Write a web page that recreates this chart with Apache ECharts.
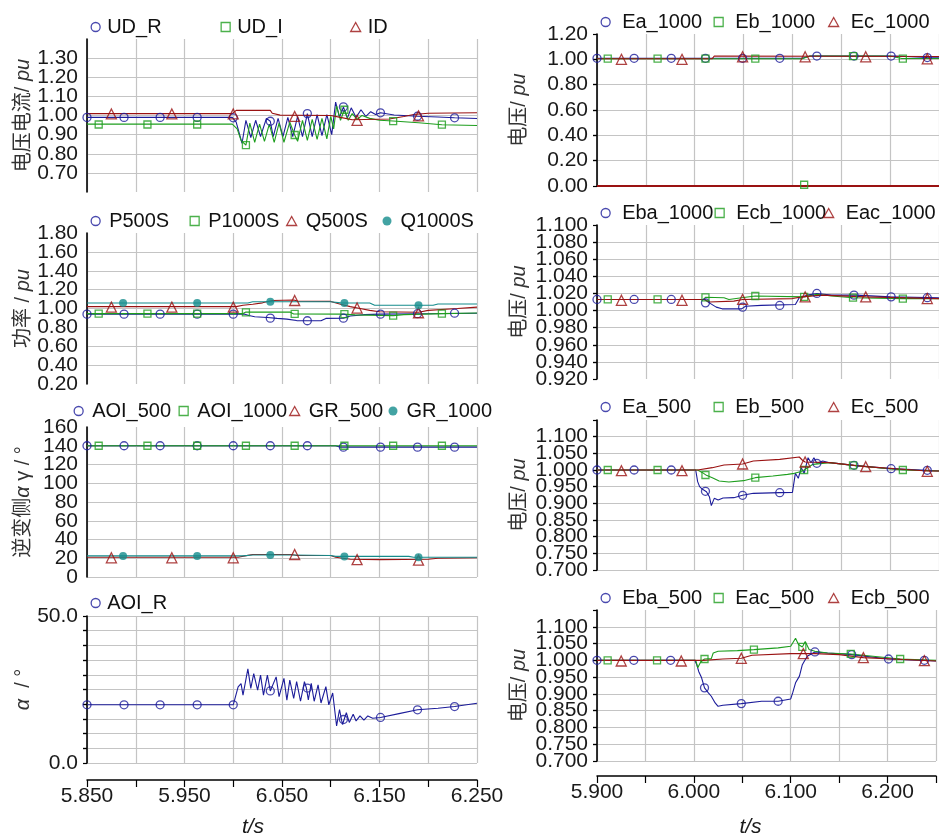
<!DOCTYPE html>
<html>
<head>
<meta charset="utf-8">
<script src="https://cdn.jsdelivr.net/npm/echarts@6/dist/echarts.min.js"></script>
<style>
  html, body { margin: 0; padding: 0; background: #fff; }
  #chart { width: 939px; height: 839px; }
</style>
</head>
<body>
<div id="chart"></div>
<script>
// ---------- time axes (s) ----------
const tLeft = { min: 5.85, max: 6.25, step: 0.05 };
const tRight = { min: 5.90, max: 6.25, step: 0.05 };

// ---------- 直流电压/电流 (pu) ----------
const udR = [[5.850,0.990],[5.999,0.990],[6.003,0.965],[6.009,0.855],[6.013,0.975],[6.018,0.885],[6.023,0.975],[6.028,0.890],[6.034,0.985],[6.038,0.970],[6.041,0.890],[6.046,0.985],[6.051,0.890],[6.056,0.990],[6.061,0.890],[6.066,0.995],[6.071,0.890],[6.076,1.010],[6.081,0.890],[6.086,1.005],[6.091,0.895],[6.096,1.005],[6.101,0.900],[6.105,1.070],[6.109,0.990],[6.113,1.045],[6.117,0.985],[6.121,1.040],[6.126,0.990],[6.131,1.030],[6.136,0.995],[6.141,1.020],[6.146,1.005],[6.151,1.014],[6.165,1.003],[6.189,0.996],[6.210,0.992],[6.227,0.988],[6.250,0.984]];
const udRMk = [[5.850,0.990],[5.888,0.990],[5.925,0.990],[5.963,0.990],[6.000,0.988],[6.038,0.970],[6.076,1.010],[6.113,1.045],[6.151,1.014],[6.189,0.996],[6.227,0.988]];
const udI = [[5.850,0.955],[5.999,0.955],[6.004,0.930],[6.008,0.870],[6.013,0.845],[6.017,0.960],[6.022,0.860],[6.027,0.955],[6.032,0.865],[6.037,0.955],[6.042,0.860],[6.047,0.960],[6.052,0.860],[6.058,0.965],[6.063,0.898],[6.066,0.865],[6.071,0.975],[6.076,0.870],[6.081,0.980],[6.086,0.875],[6.091,0.985],[6.096,0.878],[6.100,0.995],[6.103,0.930],[6.106,1.050],[6.110,0.975],[6.114,1.030],[6.118,0.975],[6.122,1.010],[6.127,0.980],[6.132,1.000],[6.140,0.985],[6.150,0.975],[6.164,0.971],[6.190,0.962],[6.214,0.952],[6.250,0.948]];
const udIMk = [[5.862,0.953],[5.912,0.953],[5.963,0.953],[6.013,0.845],[6.063,0.898],[6.114,1.030],[6.164,0.971],[6.214,0.952]];
const idc = [[5.850,1.010],[5.999,1.010],[6.003,1.027],[6.038,1.027],[6.040,1.012],[6.048,1.002],[6.100,1.000],[6.110,0.990],[6.122,0.978],[6.160,0.982],[6.175,0.995],[6.185,1.005],[6.200,1.012],[6.250,1.014]];
const idcMk = [[5.875,1.008],[5.937,1.008],[6.000,1.008],[6.063,0.995],[6.127,0.975],[6.190,0.998]];

// ---------- 功率 (pu) ----------
const p500 = [[5.850,0.940],[6.012,0.940],[6.016,0.925],[6.022,0.912],[6.035,0.905],[6.045,0.895],[6.055,0.887],[6.065,0.872],[6.090,0.870],[6.095,0.895],[6.113,0.898],[6.120,0.920],[6.135,0.935],[6.151,0.940],[6.200,0.945],[6.250,0.950]];
const p500Mk = [[5.850,0.940],[5.888,0.940],[5.925,0.940],[5.963,0.940],[6.000,0.940],[6.038,0.898],[6.076,0.870],[6.113,0.898],[6.151,0.940],[6.189,0.945],[6.227,0.950]];
const p1000 = [[5.850,0.946],[6.010,0.946],[6.013,0.962],[6.058,0.962],[6.062,0.942],[6.113,0.940],[6.125,0.932],[6.164,0.925],[6.175,0.935],[6.214,0.946],[6.250,0.952]];
const p1000Mk = [[5.862,0.946],[5.912,0.946],[5.963,0.946],[6.013,0.960],[6.063,0.942],[6.114,0.940],[6.164,0.925],[6.214,0.946]];
const q500 = [[5.850,1.020],[6.003,1.020],[6.010,1.035],[6.020,1.045],[6.030,1.060],[6.040,1.085],[6.062,1.090],[6.066,1.078],[6.100,1.075],[6.110,1.045],[6.120,1.020],[6.130,1.000],[6.140,0.980],[6.150,0.965],[6.190,0.960],[6.200,0.980],[6.230,1.000],[6.250,1.015]];
const q500Mk = [[5.875,1.015],[5.937,1.015],[6.000,1.015],[6.063,1.085],[6.127,1.005],[6.190,0.955]];
const q1000 = [[5.850,1.058],[6.015,1.058],[6.020,1.072],[6.100,1.072],[6.110,1.060],[6.140,1.058],[6.145,1.035],[6.205,1.035],[6.210,1.048],[6.250,1.048]];
const q1000Mk = [[5.887,1.058],[5.963,1.058],[6.038,1.072],[6.114,1.058],[6.190,1.035]];

// ---------- 逆变侧 α、γ (°) ----------
const aoi500 = [[5.850,140],[6.105,140],[6.110,138.5],[6.250,138.5]];
const aoi500Mk = [[5.850,140],[5.888,140],[5.925,140],[5.963,140],[6.000,140],[6.038,140],[6.076,140],[6.113,138.5],[6.151,138.5],[6.189,138.5],[6.227,138.5]];
const aoi1000 = [[5.850,140],[6.250,140]];
const aoi1000Mk = [[5.862,140],[5.912,140],[5.963,140],[6.013,140],[6.063,140],[6.114,140],[6.164,140],[6.214,140]];
const gr500 = [[5.850,21],[6.005,21],[6.012,22.5],[6.020,24],[6.060,24],[6.065,23],[6.100,23],[6.105,21],[6.120,19],[6.150,18.5],[6.200,19],[6.210,20],[6.250,20.5]];
const gr500Mk = [[5.875,20.5],[5.937,20.5],[6.000,20.5],[6.063,24],[6.127,18.5],[6.190,18]];
const gr1000 = [[5.850,22.5],[6.010,22.5],[6.020,23.5],[6.060,23.5],[6.100,23],[6.105,22],[6.180,22],[6.185,21],[6.250,21]];
const gr1000Mk = [[5.887,22.5],[5.963,22.5],[6.038,23.5],[6.114,22],[6.190,21]];

// ---------- 整流侧 α (°) ----------
const aoiR = [[5.850,19.8],[6.000,19.8],[6.005,25.9],[6.008,27.0],[6.010,23.1],[6.015,32.0],[6.018,25.4],[6.021,30.4],[6.025,24.8],[6.028,29.9],[6.031,23.1],[6.035,29.9],[6.038,24.5],[6.044,29.3],[6.047,22.6],[6.052,28.8],[6.055,21.4],[6.058,28.2],[6.062,22.0],[6.065,27.7],[6.069,21.0],[6.073,27.7],[6.075,25.5],[6.077,21.5],[6.080,27.1],[6.083,21.0],[6.087,26.6],[6.090,20.4],[6.095,26.0],[6.098,19.8],[6.102,23.8],[6.106,12.6],[6.109,18.2],[6.112,13.1],[6.116,17.1],[6.119,13.8],[6.123,16.6],[6.126,14.3],[6.130,16.0],[6.134,14.6],[6.138,16.0],[6.143,15.2],[6.151,15.5],[6.170,16.8],[6.189,18.1],[6.210,18.6],[6.227,19.2],[6.250,20.3]];
const aoiRMk = [[5.850,19.8],[5.888,19.8],[5.925,19.8],[5.963,19.8],[6.000,19.8],[6.038,24.5],[6.076,25.5],[6.113,14.8],[6.151,15.5],[6.189,18.1],[6.227,19.2]];

// ---------- 1000kV 相电压 (pu) ----------
const ea1000 = [[5.900,1.008],[6.110,1.008],[6.118,1.026],[6.205,1.026],[6.238,1.014],[6.250,1.012]];
const ea1000Mk = [[5.900,1.008],[5.938,1.008],[5.976,1.008],[6.011,1.008],[6.049,1.008],[6.087,1.008],[6.125,1.026],[6.163,1.026],[6.201,1.026],[6.238,1.014]];
const eb1000 = [[5.900,1.005],[6.110,1.005],[6.118,1.026],[6.200,1.026],[6.212,1.006],[6.250,1.006]];
const eb1000Mk = [[5.911,1.005],[5.962,1.005],[6.011,1.005],[6.062,1.005],[6.112,0.010],[6.162,1.026],[6.213,1.005]];
const ec1000 = [[5.900,1.005],[6.018,1.005],[6.020,1.026],[6.250,1.022]];
const ec1000Mk = [[5.925,1.000],[5.987,1.000],[6.049,1.020],[6.113,1.020],[6.175,1.020],[6.238,1.004]];
const ec1000Zero = [[5.900,0.000],[6.250,0.000]];

// ---------- 1000kV 线电压 (pu) ----------
const eba1000 = [[5.900,1.013],[6.010,1.013],[6.015,1.009],[6.022,1.004],[6.028,1.002],[6.048,1.002],[6.052,1.005],[6.068,1.006],[6.103,1.007],[6.107,1.015],[6.115,1.018],[6.125,1.020],[6.140,1.018],[6.165,1.018],[6.200,1.016],[6.250,1.015]];
const eba1000Mk = [[5.900,1.013],[5.938,1.013],[5.976,1.013],[6.011,1.009],[6.049,1.004],[6.087,1.006],[6.125,1.020],[6.163,1.018],[6.201,1.016],[6.238,1.015]];
const ecb1000 = [[5.900,1.013],[6.009,1.013],[6.011,1.0155],[6.030,1.015],[6.035,1.013],[6.048,1.015],[6.062,1.017],[6.112,1.016],[6.125,1.019],[6.140,1.017],[6.162,1.015],[6.213,1.014],[6.250,1.014]];
const ecb1000Mk = [[5.911,1.013],[5.962,1.013],[6.011,1.0155],[6.062,1.017],[6.112,1.016],[6.162,1.015],[6.213,1.014]];
const eac1000 = [[5.900,1.013],[6.010,1.013],[6.015,1.010],[6.040,1.011],[6.049,1.013],[6.100,1.014],[6.110,1.016],[6.130,1.018],[6.175,1.016],[6.250,1.014]];
const eac1000Mk = [[5.925,1.012],[5.987,1.012],[6.049,1.013],[6.113,1.016],[6.175,1.016],[6.238,1.014]];

// ---------- 500kV 相电压 (pu) ----------
const ea500 = [[5.900,1.000],[6.001,1.000],[6.003,0.965],[6.005,0.950],[6.008,0.942],[6.012,0.935],[6.015,0.920],[6.017,0.893],[6.020,0.915],[6.024,0.910],[6.029,0.916],[6.040,0.917],[6.049,0.924],[6.060,0.930],[6.087,0.932],[6.100,0.933],[6.103,0.990],[6.106,0.975],[6.109,1.007],[6.112,0.990],[6.116,1.037],[6.119,1.022],[6.122,1.037],[6.125,1.020],[6.131,1.027],[6.138,1.022],[6.163,1.014],[6.200,1.004],[6.238,0.999],[6.250,0.997]];
const ea500Mk = [[5.900,1.000],[5.938,1.000],[5.976,1.000],[6.011,0.936],[6.049,0.924],[6.087,0.932],[6.125,1.020],[6.163,1.014],[6.201,1.004],[6.238,0.999]];
const eb500 = [[5.900,1.000],[6.003,1.000],[6.008,0.992],[6.012,0.984],[6.018,0.977],[6.025,0.967],[6.035,0.964],[6.050,0.968],[6.062,0.977],[6.080,0.982],[6.095,0.987],[6.102,0.990],[6.108,0.995],[6.112,1.000],[6.121,1.017],[6.138,1.022],[6.162,1.014],[6.213,1.000],[6.250,0.997]];
const eb500Mk = [[5.911,1.000],[5.962,1.000],[6.011,0.985],[6.062,0.977],[6.112,1.000],[6.162,1.014],[6.213,1.000]];
const ec500 = [[5.900,1.000],[6.003,1.000],[6.018,1.007],[6.030,1.015],[6.049,1.018],[6.060,1.027],[6.087,1.032],[6.107,1.039],[6.110,1.030],[6.113,1.024],[6.138,1.022],[6.175,1.010],[6.238,0.997],[6.250,0.997]];
const ec500Mk = [[5.925,0.998],[5.987,0.998],[6.049,1.018],[6.113,1.024],[6.175,1.010],[6.238,0.996]];

// ---------- 500kV 线电压 (pu) ----------
const eba500 = [[5.900,1.000],[6.001,1.000],[6.003,0.987],[6.005,0.967],[6.008,0.948],[6.011,0.918],[6.015,0.903],[6.018,0.893],[6.022,0.873],[6.025,0.863],[6.030,0.866],[6.049,0.871],[6.070,0.878],[6.087,0.878],[6.100,0.885],[6.102,0.903],[6.105,0.933],[6.109,0.953],[6.112,0.987],[6.117,1.012],[6.125,1.025],[6.138,1.022],[6.163,1.017],[6.201,1.004],[6.238,1.000],[6.250,0.998]];
const eba500Mk = [[5.900,1.000],[5.938,1.000],[5.976,1.000],[6.011,0.918],[6.049,0.871],[6.087,0.878],[6.125,1.025],[6.163,1.017],[6.201,1.004],[6.238,1.000]];
const eac500 = [[5.900,1.000],[6.002,1.000],[6.004,0.978],[6.007,0.995],[6.011,1.004],[6.018,1.005],[6.020,1.022],[6.025,1.027],[6.045,1.029],[6.062,1.032],[6.087,1.037],[6.100,1.042],[6.105,1.066],[6.108,1.047],[6.112,1.040],[6.115,1.056],[6.119,1.032],[6.125,1.027],[6.138,1.022],[6.162,1.019],[6.213,1.004],[6.250,1.000]];
const eac500Mk = [[5.911,1.000],[5.962,1.000],[6.011,1.004],[6.062,1.032],[6.112,1.040],[6.162,1.019],[6.213,1.004]];
const ecb500 = [[5.900,1.000],[6.010,1.000],[6.030,1.004],[6.049,1.006],[6.060,1.015],[6.100,1.020],[6.125,1.020],[6.150,1.017],[6.175,1.008],[6.250,0.998]];
const ecb500Mk = [[5.925,0.998],[5.987,0.998],[6.049,1.006],[6.113,1.020],[6.175,1.008],[6.238,0.999]];

// ---------- appearance ----------
const FONT = '"Liberation Sans", Arial, sans-serif';
const CJK = '"Liberation Sans", "Noto Sans CJK SC", sans-serif';
const GRID_COLOR = '#c4c4c4';
const STYLES = {
  circ: { color: '#1c1c9a', symbol: 'circle',   size: 8,  hollow: true },
  sq:   { color: '#1e9e1e', symbol: 'rect',     size: 7,  hollow: true },
  tri:  { color: '#9a1212', symbol: 'triangle', size: 10, hollow: true },
  dot:  { color: '#148c8c', symbol: 'circle',   size: 8,  hollow: false }
};

// panel layout: plot box [left, top, width, height], axis ranges, legend row
// leg.gap = extra space between a legend icon and its text
// y.endLabels = which end labels (min / max) are printed
const panels = [
  { side: 'L', box: [87, 39, 390, 153],
    y: { min: 0.6, max: 1.4, step: 0.1, dec: 2, endLabels: [false, false], ticks: false, minLine: false, maxLine: false },
    yName: '电压电流/ {i|pu}', leg: { y: 27, xs: [95, 225, 355], gap: 2 },
    items: [['UD_R', 'circ', udR, udRMk], ['UD_I', 'sq', udI, udIMk], ['ID', 'tri', idc, idcMk]] },
  { side: 'L', box: [87, 233, 390, 151],
    y: { min: 0.2, max: 1.8, step: 0.2, dec: 2, endLabels: [true, true], ticks: false, minLine: false, maxLine: false },
    yName: '功率 / {i|pu}', leg: { y: 221, xs: [95, 194, 291, 387], gap: 4 },
    items: [['P500S', 'circ', p500, p500Mk], ['P1000S', 'sq', p1000, p1000Mk], ['Q500S', 'tri', q500, q500Mk], ['Q1000S', 'dot', q1000, q1000Mk]] },
  { side: 'L', box: [87, 427, 390, 150],
    y: { min: 0, max: 160, step: 20, dec: 0, endLabels: [true, true], ticks: false, minLine: true, maxLine: false },
    yName: '逆变侧{i|α} γ / °', leg: { y: 411, xs: [78, 183, 294, 393], gap: 4 },
    items: [['AOI_500', 'circ', aoi500, aoi500Mk], ['AOI_1000', 'sq', aoi1000, aoi1000Mk], ['GR_500', 'tri', gr500, gr500Mk], ['GR_1000', 'dot', gr1000, gr1000Mk]] },
  { side: 'L', box: [87, 616, 390, 150], bottom: true, xOffset: 17, xNameGap: 37, xNameShift: 58,
    y: { min: 0, max: 50, step: 5, dec: 1, endLabels: [true, true], innerHidden: true, ticks: true, minLine: true, maxLine: true },
    yName: '{i|α}  / °', leg: { y: 603, xs: [95], gap: 2 },
    items: [['AOI_R', 'circ', aoiR, aoiRMk]] },
  { side: 'R', box: [597, 34, 342, 152],
    y: { min: 0, max: 1.2, step: 0.2, dec: 2, endLabels: [true, true], ticks: true, minLine: false, maxLine: false },
    yName: '电压/ {i|pu}', leg: { y: 22, xs: [605, 718, 833], gap: 7 },
    items: [['Ea_1000', 'circ', ea1000, ea1000Mk], ['Eb_1000', 'sq', eb1000, eb1000Mk], ['Ec_1000', 'tri', ec1000, ec1000Mk], ['Ec_1000', 'tri', ec1000Zero, null, 2]] },
  { side: 'R', box: [597, 225, 342, 154],
    y: { min: 0.92, max: 1.10, step: 0.02, dec: 3, endLabels: [true, true], ticks: true, minLine: false, maxLine: false },
    yName: '电压/ {i|pu}', leg: { y: 213, xs: [605, 719, 828], gap: 7 },
    items: [['Eba_1000', 'circ', eba1000, eba1000Mk], ['Ecb_1000', 'sq', ecb1000, ecb1000Mk], ['Eac_1000', 'tri', eac1000, eac1000Mk]] },
  { side: 'R', box: [597, 420, 342, 150],
    y: { min: 0.70, max: 1.15, step: 0.05, dec: 3, endLabels: [true, false], ticks: true, minLine: true, maxLine: false },
    yName: '电压/ {i|pu}', leg: { y: 407, xs: [605, 718, 833], gap: 7 },
    items: [['Ea_500', 'circ', ea500, ea500Mk], ['Eb_500', 'sq', eb500, eb500Mk], ['Ec_500', 'tri', ec500, ec500Mk]] },
  { side: 'R', box: [597, 610, 342, 152], bottom: true, xOffset: 15, xNameGap: 41, xNameShift: 32,
    y: { min: 0.70, max: 1.15, step: 0.05, dec: 3, endLabels: [true, false], ticks: true, minLine: true, maxLine: false },
    yName: '电压/ {i|pu}', leg: { y: 598, xs: [605, 718, 833], gap: 7 },
    items: [['Eba_500', 'circ', eba500, eba500Mk], ['Eac_500', 'sq', eac500, eac500Mk], ['Ecb_500', 'tri', ecb500, ecb500Mk]] }
];

const grid = [], xAxis = [], yAxis = [], yEnds = [], series = [], legend = [];
const labelStyle = { fontSize: 21, margin: 9, color: '#1a1a1a', fontFamily: FONT };

panels.forEach((p, i) => {
  const t = p.side === 'L' ? tLeft : tRight;
  grid.push({ left: p.box[0], top: p.box[1], width: p.box[2], height: p.box[3], containLabel: false });

  const xLabel = (v) => {
    const k = Math.round(v * 1000);
    if (p.side === 'L') return (k - 5850) % 100 === 0 ? v.toFixed(3) : '';
    return (k % 100 === 0 && k < 6250) ? v.toFixed(3) : '';
  };
  xAxis.push({
    gridIndex: i, type: 'value', min: t.min, max: t.max, interval: t.step,
    offset: p.bottom ? p.xOffset : 0,
    axisLine: { show: !!p.bottom, onZero: false, lineStyle: { color: '#000', width: 1.5 } },
    axisTick: { show: !!p.bottom, length: 7, lineStyle: { color: '#000', width: 1.2 } },
    axisLabel: { show: !!p.bottom, formatter: xLabel, fontSize: 21, margin: 6, color: '#1a1a1a', fontFamily: FONT },
    splitLine: { show: true, lineStyle: { color: GRID_COLOR, width: 1.2 } },
    name: p.bottom ? 't/s' : '', nameLocation: 'middle', nameGap: p.xNameGap || 0,
    nameTextStyle: { fontStyle: 'italic', fontSize: 21, color: '#1a1a1a', fontFamily: FONT,
      padding: [0, p.xNameShift || 0, 0, 0] }
  });

  const yc = p.y;
  const isEnd = (v) => Math.abs(v - yc.min) < 1e-9 || Math.abs(v - yc.max) < 1e-9;
  // main axis: line, ticks, grid and the inner labels (end labels never collide here)
  yAxis.push({
    gridIndex: i, type: 'value', min: yc.min, max: yc.max, interval: yc.step,
    axisLine: { show: true, onZero: false, lineStyle: { color: '#000', width: 1.6 } },
    axisTick: { show: yc.ticks, length: 4, lineStyle: { color: '#000', width: 1.2 } },
    axisLabel: Object.assign({}, labelStyle, {
      formatter: (v) => (yc.innerHidden || isEnd(v)) ? '' : v.toFixed(yc.dec),
      showMinLabel: false, showMaxLabel: false }),
    splitLine: { show: true, showMinLine: yc.minLine, showMaxLine: yc.maxLine,
      lineStyle: { color: GRID_COLOR, width: 1.2 } },
    name: p.yName, nameLocation: 'middle', nameGap: p.side === 'L' ? 54 : 68,
    nameTextStyle: { fontSize: 20, color: '#333', fontFamily: CJK,
      rich: { i: { fontStyle: 'italic', fontSize: 20, color: '#333', fontFamily: FONT } } }
  });
  // companion axis on the same side carrying only the end labels (and the end ticks)
  yEnds.push({
    gridIndex: i, type: 'value', min: yc.min, max: yc.max, interval: yc.step, position: 'left',
    axisLine: { show: false, onZero: false },
    axisTick: { show: yc.ticks, length: 4, lineStyle: { color: '#000', width: 1.2 } },
    axisLabel: Object.assign({}, labelStyle, {
      formatter: (v) => {
        if (Math.abs(v - yc.min) < 1e-9) return yc.endLabels[0] ? v.toFixed(yc.dec) : '';
        if (Math.abs(v - yc.max) < 1e-9) return yc.endLabels[1] ? v.toFixed(yc.dec) : '';
        return '';
      },
      showMinLabel: true, showMaxLabel: true }),
    splitLine: { show: false }
  });

  // markers first so the legend takes its icon from them, then the traces
  p.items.forEach(([name, key, line, marks, width]) => {
    const s = STYLES[key];
    if (marks) {
      series.push({
        type: 'scatter', name, xAxisIndex: i, yAxisIndex: i, data: marks, z: 4,
        symbol: s.symbol, symbolSize: s.size,
        itemStyle: s.hollow
          ? { color: 'rgba(255,255,255,0)', borderColor: s.color, borderWidth: 1.3 }
          : { color: s.color },
        emphasis: { disabled: true }, silent: true
      });
    }
    series.push({
      type: 'line', name, xAxisIndex: i, yAxisIndex: i, data: line, z: 3,
      showSymbol: false, symbol: 'none',
      lineStyle: { color: s.color, width: width || 1.1 },
      itemStyle: { color: s.color },
      emphasis: { disabled: true }, silent: true, animation: false
    });
  });

  // one legend component per entry so each keeps its own slot in the row
  const names = [];
  p.items.forEach(([name, key]) => { if (!names.some(n => n[0] === name)) names.push([name, key]); });
  names.forEach(([name, key], j) => {
    const s = STYLES[key];
    const iw = key === 'tri' ? 10 : 9;
    legend.push({
      left: p.leg.xs[j] - iw / 2, top: p.leg.y - 10,
      padding: 0, itemWidth: iw, itemHeight: 9,
      selectedMode: false,
      textStyle: { fontSize: 20, color: '#111', fontFamily: FONT, padding: [0, 0, 0, p.leg.gap] },
      data: [{
        name, icon: s.symbol,
        itemStyle: s.hollow
          ? { color: 'rgba(255,255,255,0)', borderColor: s.color, borderWidth: 1.3 }
          : { color: s.color, borderWidth: 0 }
      }]
    });
  });
});

const chart = echarts.init(document.getElementById('chart'), null, { renderer: 'canvas' });
chart.setOption({
  backgroundColor: '#fff',
  animation: false,
  grid, xAxis, yAxis: yAxis.concat(yEnds), series, legend,
  tooltip: { show: false }
});
</script>
</body>
</html>
